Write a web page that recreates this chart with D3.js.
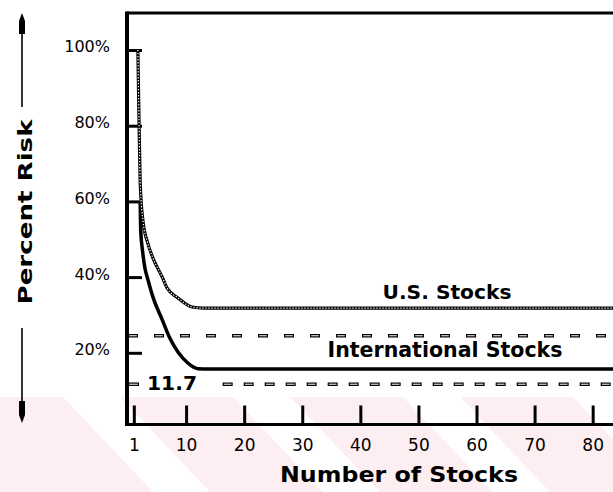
<!DOCTYPE html>
<html>
<head>
<meta charset="utf-8">
<script src="https://cdn.jsdelivr.net/npm/d3@7"></script>
<style>
body { margin: 0; background: #fff; }
svg { display: block; }
</style>
</head>
<body>
<svg width="613" height="492"></svg>
<script>
// data
var xTicks = [1, 10, 20, 30, 40, 50, 60, 70, 80];
var yTicks = [20, 40, 60, 80, 100];

var usStocks = [1.7, 1.9, 2.1, 2.6, 3.3, 4.3, 5.9, 6.7, 8.6, 11, 13, 30, 50, 70, 84];
var usRisk = [100, 81, 65, 54.5, 49.5, 45, 40, 37.2, 34.5, 32.1, 31.8, 31.8, 31.8, 31.8, 31.8];

var intlStocks = [2.1, 2.2, 2.5, 2.9, 3.4, 4.3, 5.9, 7.2, 8.6, 10.3, 12, 14, 30, 50, 70, 84];
var intlRisk = [60, 52, 47, 42.5, 39.5, 34.7, 28.7, 23.9, 20.2, 17.3, 15.8, 15.7, 15.7, 15.7, 15.7, 15.7];

var refLines = [24.5, 11.7];
var refLabel = "11.7";

var svg = d3.select("svg"),
	W = +svg.attr("width"),
	H = +svg.attr("height");

var frameLeft = 127, frameTop = 13, frameBottom = 424.5;

var x = d3.scaleLinear().domain([0, 83.5]).range([128, 613]),
	y = d3.scaleLinear().domain([0, 100]).range([428.5, 50]);

// faint pink watermark band at the bottom
var wm = svg.append("g");
wm.append("rect")
	.attr("x", 0).attr("y", 397)
	.attr("width", W).attr("height", H - 397)
	.attr("fill", "#fdeef1");
[63, 233, 403, 573].forEach(function(x0) {
	wm.append("polygon")
		.attr("points", [[x0, 397], [x0 + 57, 397], [x0 + 147, 492], [x0 + 90, 492]].join(" "))
		.attr("fill", "#fff");
});

// frame
svg.append("line")
	.attr("x1", frameLeft).attr("x2", frameLeft)
	.attr("y1", frameTop - 1.5).attr("y2", frameBottom + 1.5)
	.attr("stroke", "#000").attr("stroke-width", 4);
svg.append("line")
	.attr("x1", frameLeft).attr("x2", W)
	.attr("y1", frameTop).attr("y2", frameTop)
	.attr("stroke", "#000").attr("stroke-width", 3);
svg.append("line")
	.attr("x1", frameLeft).attr("x2", W)
	.attr("y1", frameBottom).attr("y2", frameBottom)
	.attr("stroke", "#000").attr("stroke-width", 3);

// y axis: ticks point into the plot
var yAxis = svg.append("g")
	.attr("transform", "translate(" + frameLeft + ",0)")
	.call(d3.axisLeft(y).tickValues(yTicks).tickSizeInner(-15).tickSizeOuter(0).tickPadding(17)
		.tickFormat(function(d) { return d + "%"; }));
yAxis.select(".domain").remove();
yAxis.selectAll(".tick line").attr("stroke", "#000").attr("stroke-width", 3);
yAxis.selectAll(".tick text")
	.attr("dy", "0.12em")
	.attr("fill", "#000")
	.style("font-family", "'DejaVu Sans', sans-serif")
	.style("font-size", "16px");

// x axis
var xAxis = svg.append("g")
	.attr("transform", "translate(0," + frameBottom + ")")
	.call(d3.axisBottom(x).tickValues(xTicks).tickSizeInner(-19).tickSizeOuter(0).tickPadding(14));
xAxis.select(".domain").remove();
xAxis.selectAll(".tick line").attr("stroke", "#000").attr("stroke-width", 3);
xAxis.selectAll(".tick text")
	.attr("fill", "#000")
	.style("font-family", "'DejaVu Sans', sans-serif")
	.style("font-size", "17px");

// dashed reference lines (hollow dashes)
function dashed(x1, x2, yv, dash) {
	svg.append("line")
		.attr("x1", x1).attr("x2", x2).attr("y1", y(yv)).attr("y2", y(yv))
		.attr("stroke", "#000").attr("stroke-width", 3.5)
		.attr("stroke-dasharray", dash[0] + "," + dash[1]);
	svg.append("line")
		.attr("x1", x1 + 1.2).attr("x2", x2).attr("y1", y(yv)).attr("y2", y(yv))
		.attr("stroke", "#fff").attr("stroke-width", 1)
		.attr("stroke-dasharray", (dash[0] - 2.4) + "," + (dash[1] + 2.4));
}
dashed(frameLeft + 1, W, refLines[0], [10, 16]);
dashed(frameLeft + 1, x(1.9), refLines[1], [11, 10]);
dashed(x(16.3), W, refLines[1], [10, 11]);

svg.append("text")
	.attr("x", 147).attr("y", y(refLines[1]) + 5.5)
	.attr("textLength", 50).attr("lengthAdjust", "spacingAndGlyphs")
	.style("font-family", "'DejaVu Sans', sans-serif")
	.style("font-weight", "bold").style("font-size", "20px")
	.text(refLabel);

// curves
var line = d3.line()
	.x(function(d) { return x(d[0]); })
	.y(function(d) { return y(d[1]); })
	.curve(d3.curveMonotoneX);

var intl = d3.zip(intlStocks, intlRisk),
	us = d3.zip(usStocks, usRisk);

svg.append("path")
	.attr("d", line(intl))
	.attr("fill", "none").attr("stroke", "#000").attr("stroke-width", 3.5);

svg.append("path")
	.attr("d", line(us))
	.attr("fill", "none").attr("stroke", "#000").attr("stroke-width", 3.2);
svg.append("path")
	.attr("d", line(us))
	.attr("fill", "none").attr("stroke", "#fff").attr("stroke-width", 1.2)
	.attr("stroke-dasharray", "1.3,1.7");

// series labels
function label(txt, cx, by, size, len) {
	svg.append("text")
		.attr("x", cx).attr("y", by)
		.attr("text-anchor", "middle")
		.attr("textLength", len).attr("lengthAdjust", "spacingAndGlyphs")
		.style("font-family", "'DejaVu Sans', sans-serif")
		.style("font-weight", "bold").style("font-size", size + "px")
		.text(txt);
}
label("U.S. Stocks", 447, 299, 20, 129);
label("International Stocks", 445, 357, 21, 235);
label("Number of Stocks", 399, 482, 21, 238);

// vertical axis title with arrows
svg.append("text")
	.attr("transform", "translate(32,212) rotate(-90)")
	.attr("text-anchor", "middle")
	.attr("textLength", 185).attr("lengthAdjust", "spacingAndGlyphs")
	.style("font-family", "'DejaVu Sans', sans-serif")
	.style("font-weight", "bold").style("font-size", "20px")
	.text("Percent Risk");

svg.append("line").attr("x1", 22).attr("x2", 22).attr("y1", 30).attr("y2", 107)
	.attr("stroke", "#000").attr("stroke-width", 1.6);
svg.append("line").attr("x1", 22).attr("x2", 22).attr("y1", 328).attr("y2", 405)
	.attr("stroke", "#000").attr("stroke-width", 1.6);
svg.append("path")
	.attr("d", "M22,13 L25,21 L25,34 L19,34 L19,21 Z")
	.attr("fill", "#000");
svg.append("path")
	.attr("d", "M22,423 L25,415 L25,401 L19,401 L19,415 Z")
	.attr("fill", "#000");
</script>
</body>
</html>
